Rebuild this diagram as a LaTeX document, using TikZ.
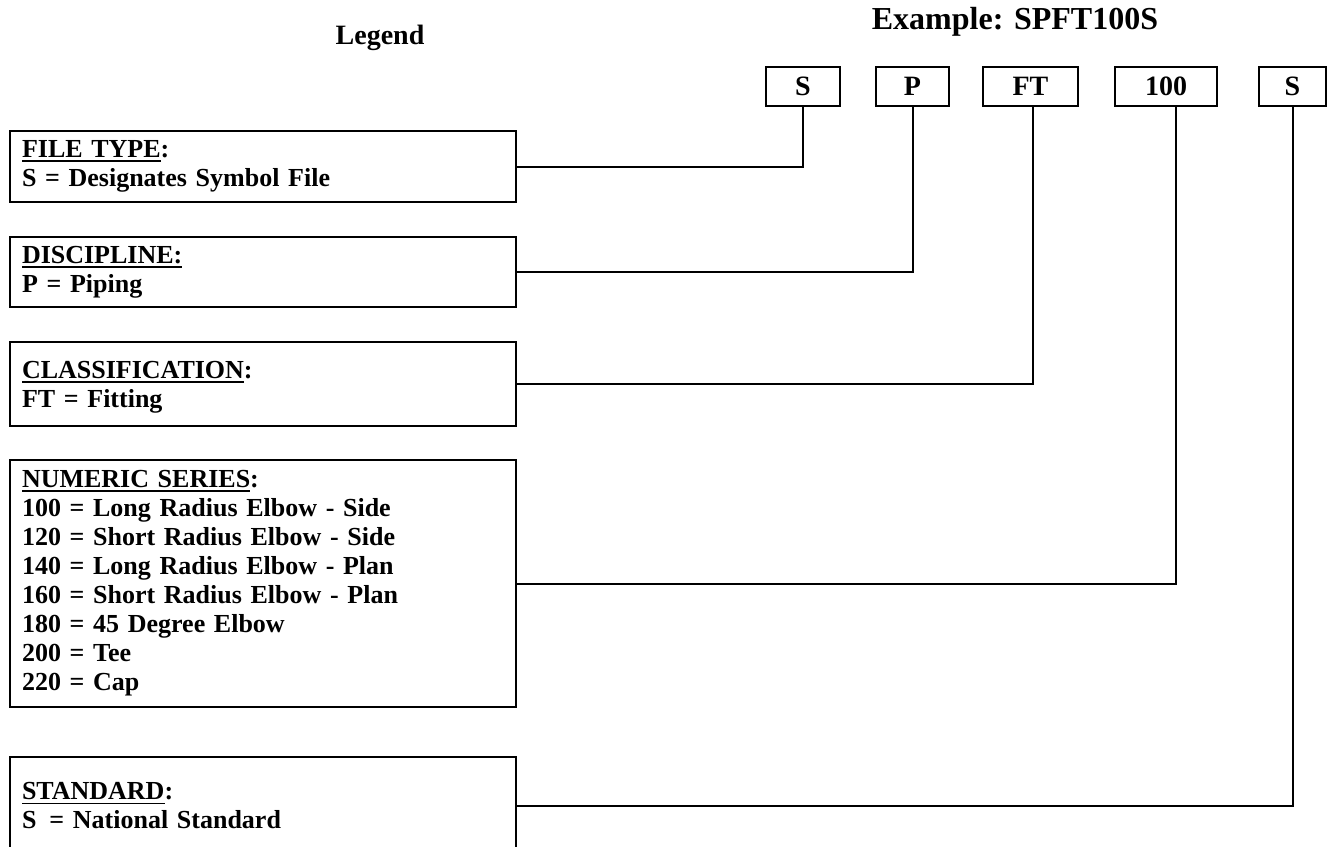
\documentclass[tikz,border=0pt]{standalone}
\usepackage{fontspec}
\setmainfont{Liberation Serif}
\usetikzlibrary{calc}
\newlength\hdrwd
\newcommand\hdr[1]{\settowidth\hdrwd{#1}\rlap{\rule[-2.2pt]{\hdrwd}{0.9pt}}#1}

\begin{document}
\begin{tikzpicture}[
  x=0.5pt, y=-0.5pt,
  keybox/.style={draw, line width=1pt, minimum width=253pt, minimum height=#1,
                 text width=241pt, inner xsep=6pt, inner ysep=2pt, align=left,
                 font=\fontsize{13}{14.5}\selectfont\bfseries},
  codebox/.style={draw, line width=1pt, minimum width=#1, minimum height=19.5pt,
                  inner sep=0pt, font=\fontsize{14}{15}\selectfont\bfseries},
  link/.style={line width=1pt}
]
\useasboundingbox (0,0) rectangle (1327,846);

% Titles
\node[font=\fontsize{14}{15}\selectfont\bfseries] (leg) at (380,38) {Legend};
\node[font=\fontsize{16}{17}\selectfont\bfseries] (ex) at (1015,22) {Example: SPFT100S};

% Code parts
\node[codebox=37pt]   (c1) at (803,86.5)  {S};
\node[codebox=36.5pt] (c2) at (912.5,86.5) {P};
\node[codebox=47.5pt] (c3) at (1030.5,86.5) {FT};
\node[codebox=51pt]   (c4) at (1166,86.5) {100};
\node[codebox=33.5pt] (c5) at (1292.5,86.5) {S};

% Key boxes
\node[keybox=35.5pt] (k1) at (263,166.5)
  {\hdr{FILE TYPE}:\\S = Designates Symbol File};
\node[keybox=35pt] (k2) at (263,272)
  {\hdr{DISCIPLINE:}\\P = Piping};
\node[keybox=42pt, text depth=14pt] (k3) at (263,384)
  {\hdr{CLASSIFICATION}:\\FT = Fitting};
\node[keybox=123.5pt] (k4) at (263,583.5)
  {\hdr{NUMERIC SERIES}:\\
   100 = Long Radius Elbow - Side\\
   120 = Short Radius Elbow - Side\\
   140 = Long Radius Elbow - Plan\\
   160 = Short Radius Elbow - Plan\\
   180 = 45 Degree Elbow\\
   200 = Tee\\
   220 = Cap};
\node[keybox=49pt] (k5) at (263,806)
  {\hdr{STANDARD}:\\S\enspace= National Standard};

% Connectors
\draw[link] (k1.east) -| (c1.south);
\draw[link] (k2.east) -| (c2.south);
\draw[link] (k3.east) -| ([xshift=1pt]c3.south);
\draw[link] (k4.east) -| ([xshift=5pt]c4.south);
\draw[link] (k5.east) -| (c5.south);
\end{tikzpicture}
\end{document}
